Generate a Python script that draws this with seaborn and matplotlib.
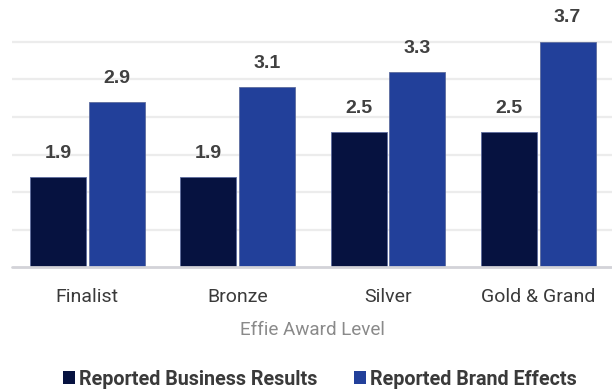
import matplotlib
matplotlib.use("Agg")
import matplotlib.pyplot as plt
import seaborn as sns
import pandas as pd
import numpy as np

# Average number of reported effects by award level
levels = ["Finalist", "Bronze", "Silver", "Gold & Grand"]
business_results = [1.9, 1.9, 2.5, 2.5]
brand_effects = [2.9, 3.1, 3.3, 3.7]
series_names = ["Reported Business Results", "Reported Brand Effects"]
palette = ["#061240", "#22409A"]

df = pd.DataFrame({
    "level": levels * 2,
    "value": business_results + brand_effects,
    "series": [series_names[0]] * len(levels) + [series_names[1]] * len(levels),
})

sns.set_theme(style="white")
plt.rcParams["font.family"] = ["Roboto", "DejaVu Sans"]

fig = plt.figure(figsize=(6.12, 3.90), dpi=100)
ax = fig.add_axes([12 / 612, 122.7 / 390, 1 - 12 / 612, 1 - 122.7 / 390])

y0, step = 0.7, 0.5

# light horizontal guides
for k in range(1, 7):
    ax.axhline(y0 + k * step, color="#ececec", lw=1.6, zorder=0)

sns.barplot(data=df, x="level", y="value", hue="series", palette=palette,
            saturation=1, width=0.78, gap=0.045, edgecolor="#5d6c9e",
            linewidth=0.6, ax=ax, zorder=2, legend=True)

ax.set_ylim(y0, 4.255)
ax.set_xlim(-0.5, 3.49)
ax.axhline(y0, color="#d3d3d8", lw=2.0, zorder=3, clip_on=False)

for cont in ax.containers:
    ax.bar_label(cont, labels=[f"{v:.1f}" for v in cont.datavalues],
                 padding=11, fontsize=14, fontweight="bold", color="#404040",
                 family=["Liberation Sans", "DejaVu Sans"])

for s in ax.spines.values():
    s.set_visible(False)
ax.set_yticks([])
ax.set_ylabel("")
ax.tick_params(axis="x", length=0, pad=15, labelsize=14, labelcolor="#3a3a3a")
ax.set_xlabel("Effie Award Level", fontsize=13.6, color="#8a8a8a", labelpad=11)

leg = ax.legend(loc="center", bbox_to_anchor=(0.513, -0.418), ncol=2,
                frameon=False, handlelength=0.62, handleheight=0.62,
                handletextpad=0.2, columnspacing=1.85,
                prop={"family": "Roboto", "weight": "bold", "size": 14.2})
for t in leg.get_texts():
    t.set_color("#3a3a3a")
for h in leg.legend_handles:
    h.set_edgecolor("none")

fig.savefig("out.png", dpi=100)
